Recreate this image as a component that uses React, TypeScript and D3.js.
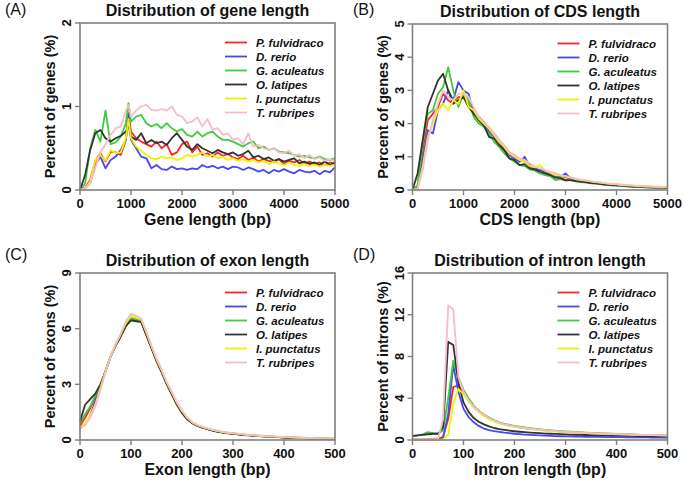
import React from "react";
import * as d3 from "d3";

const FONT = "'Liberation Sans', Arial, Helvetica, sans-serif";

const SPECIES = ["P. fulvidraco", "D. rerio", "G. aculeatus", "O. latipes", "I. punctatus", "T. rubripes"];
const COLORS = ["#ff2424", "#4848ee", "#3ccc3c", "#333333", "#f2f200", "#f8bcc8"];

// bin positions (bp)
const GENE_X = [...d3.range(0, 1000, 100), 950, ...d3.range(1000, 5001, 100)];
const CDS_X = d3.range(0, 5001, 100);
const EXON_X = d3.range(0, 501, 10);
const INTRON_X = d3.range(0, 501, 10);

// (A) gene length, % of genes
const GENE_PF = [0, 0.03, 0.12, 0.35, 0.44, 0.34, 0.46, 0.45, 0.42, 0.6, 0.92, 0.7, 0.62, 0.58, 0.55, 0.52, 0.58, 0.5, 0.55, 0.42, 0.45, 0.55, 0.58, 0.45, 0.52, 0.42, 0.44, 0.4, 0.45, 0.41, 0.43, 0.39, 0.37, 0.41, 0.36, 0.39, 0.34, 0.37, 0.35, 0.33, 0.37, 0.31, 0.35, 0.33, 0.36, 0.32, 0.34, 0.31, 0.33, 0.3, 0.33, 0.31];
const GENE_DR = [0, 0.02, 0.08, 0.3, 0.4, 0.26, 0.36, 0.4, 0.48, 0.6, 0.9, 0.6, 0.5, 0.4, 0.38, 0.26, 0.3, 0.25, 0.24, 0.28, 0.25, 0.26, 0.24, 0.26, 0.25, 0.3, 0.27, 0.29, 0.26, 0.28, 0.25, 0.28, 0.27, 0.24, 0.27, 0.25, 0.22, 0.24, 0.2, 0.24, 0.22, 0.25, 0.22, 0.2, 0.24, 0.22, 0.21, 0.23, 0.19, 0.23, 0.21, 0.27];
const GENE_GA = [0, 0.08, 0.5, 0.72, 0.58, 0.95, 0.55, 0.57, 0.64, 0.8, 1.04, 0.82, 0.88, 0.9, 0.8, 0.76, 0.79, 0.74, 0.8, 0.74, 0.7, 0.73, 0.66, 0.64, 0.7, 0.64, 0.68, 0.7, 0.64, 0.6, 0.6, 0.58, 0.55, 0.52, 0.56, 0.58, 0.5, 0.52, 0.48, 0.5, 0.46, 0.45, 0.44, 0.42, 0.4, 0.41, 0.39, 0.38, 0.4, 0.37, 0.36, 0.38];
const GENE_OL = [0, 0.18, 0.48, 0.68, 0.72, 0.62, 0.58, 0.62, 0.65, 0.7, 0.78, 0.64, 0.6, 0.68, 0.56, 0.6, 0.56, 0.58, 0.54, 0.62, 0.68, 0.6, 0.52, 0.48, 0.55, 0.5, 0.47, 0.44, 0.48, 0.45, 0.43, 0.45, 0.41, 0.43, 0.47, 0.39, 0.41, 0.37, 0.39, 0.35, 0.37, 0.34, 0.36, 0.38, 0.32, 0.34, 0.31, 0.33, 0.3, 0.34, 0.3, 0.33];
const GENE_IP = [0, 0.02, 0.1, 0.36, 0.42, 0.35, 0.48, 0.44, 0.45, 0.62, 0.85, 0.62, 0.52, 0.47, 0.42, 0.38, 0.37, 0.4, 0.38, 0.39, 0.36, 0.38, 0.42, 0.4, 0.42, 0.45, 0.4, 0.42, 0.38, 0.4, 0.36, 0.38, 0.35, 0.37, 0.34, 0.36, 0.33, 0.35, 0.31, 0.34, 0.32, 0.3, 0.33, 0.3, 0.29, 0.31, 0.29, 0.3, 0.28, 0.3, 0.29, 0.3];
const GENE_TR = [0, 0.02, 0.08, 0.26, 0.45, 0.55, 0.66, 0.74, 0.76, 0.95, 1.02, 0.88, 0.95, 1.0, 1.02, 0.96, 0.95, 0.97, 0.95, 1.0, 0.9, 0.88, 0.8, 0.82, 0.87, 0.76, 0.85, 0.72, 0.74, 0.66, 0.68, 0.6, 0.62, 0.55, 0.68, 0.52, 0.54, 0.5, 0.48, 0.5, 0.45, 0.44, 0.47, 0.41, 0.43, 0.38, 0.42, 0.37, 0.39, 0.35, 0.37, 0.34];

// (B) CDS length, % of genes
const CDS_PF = [0, 0.1, 1.2, 2.1, 2.3, 2.5, 2.9, 2.7, 2.6, 2.8, 2.8, 2.6, 2.3, 2.2, 2.05, 1.8, 1.7, 1.5, 1.3, 1.1, 1.05, 0.9, 0.85, 0.75, 0.6, 0.62, 0.55, 0.5, 0.45, 0.42, 0.38, 0.35, 0.31, 0.29, 0.27, 0.24, 0.22, 0.2, 0.18, 0.17, 0.16, 0.15, 0.13, 0.12, 0.11, 0.11, 0.1, 0.09, 0.09, 0.08, 0.08];
const CDS_DR = [0, 0.05, 0.9, 1.8, 1.7, 2.4, 2.6, 3.0, 2.7, 3.25, 3.0, 2.9, 2.3, 2.2, 2.0, 1.75, 1.6, 1.45, 1.2, 1.05, 0.95, 0.85, 1.0, 0.7, 0.65, 0.6, 0.55, 0.5, 0.42, 0.4, 0.5, 0.34, 0.3, 0.28, 0.26, 0.23, 0.21, 0.19, 0.17, 0.16, 0.15, 0.14, 0.12, 0.11, 0.1, 0.1, 0.09, 0.08, 0.08, 0.07, 0.07];
const CDS_GA = [0, 0.15, 1.4, 2.3, 2.4, 2.9, 3.1, 3.7, 3.0, 2.5, 2.9, 2.7, 2.2, 2.0, 1.9, 1.7, 1.45, 1.3, 1.1, 0.95, 0.85, 0.75, 0.72, 0.62, 0.58, 0.5, 0.45, 0.42, 0.3, 0.33, 0.28, 0.3, 0.26, 0.24, 0.22, 0.2, 0.19, 0.17, 0.15, 0.14, 0.13, 0.12, 0.11, 0.1, 0.09, 0.09, 0.08, 0.07, 0.07, 0.06, 0.06];
const CDS_OL = [0, 0.5, 1.5, 2.5, 2.9, 3.3, 3.5, 3.0, 2.6, 2.7, 2.8, 2.5, 2.3, 2.1, 1.95, 1.6, 1.55, 1.35, 1.2, 0.95, 0.9, 0.75, 0.78, 0.65, 0.62, 0.55, 0.5, 0.45, 0.37, 0.36, 0.3, 0.3, 0.27, 0.25, 0.24, 0.21, 0.2, 0.18, 0.16, 0.15, 0.14, 0.13, 0.12, 0.1, 0.1, 0.09, 0.08, 0.08, 0.07, 0.07, 0.06];
const CDS_IP = [0, 0.03, 0.7, 1.6, 2.0, 2.4, 2.6, 2.4, 2.7, 2.6, 3.0, 2.5, 2.4, 2.15, 2.0, 1.85, 1.65, 1.45, 1.3, 1.1, 1.0, 0.9, 0.85, 0.72, 0.68, 0.75, 0.58, 0.52, 0.45, 0.43, 0.4, 0.37, 0.33, 0.3, 0.28, 0.26, 0.24, 0.22, 0.2, 0.19, 0.18, 0.16, 0.15, 0.14, 0.13, 0.12, 0.11, 0.1, 0.1, 0.09, 0.09];
const CDS_TR = [0, 0.02, 0.6, 1.5, 2.1, 2.6, 3.0, 2.8, 2.7, 2.9, 2.9, 2.8, 2.5, 2.2, 2.05, 1.9, 1.7, 1.5, 1.35, 1.15, 1.05, 0.95, 0.9, 0.8, 0.7, 0.65, 0.6, 0.55, 0.5, 0.45, 0.42, 0.38, 0.34, 0.31, 0.29, 0.26, 0.24, 0.22, 0.2, 0.18, 0.17, 0.15, 0.14, 0.13, 0.12, 0.11, 0.1, 0.1, 0.09, 0.08, 0.08];

// (C) exon length, % of exons
const EXON_PF = [0.75, 1.2, 1.7, 2.3, 2.9, 3.7, 4.5, 5.1, 5.6, 6.2, 6.55, 6.5, 6.45, 5.7, 5.0, 4.3, 3.7, 3.05, 2.5, 1.95, 1.5, 1.15, 0.92, 0.78, 0.68, 0.6, 0.52, 0.46, 0.41, 0.38, 0.35, 0.32, 0.29, 0.26, 0.24, 0.22, 0.2, 0.19, 0.17, 0.16, 0.14, 0.13, 0.12, 0.11, 0.1, 0.09, 0.08, 0.08, 0.07, 0.07, 0.06];
const EXON_DR = [0.7, 0.85, 1.3, 2.1, 2.9, 3.7, 4.5, 5.1, 5.6, 6.15, 6.5, 6.45, 6.4, 5.7, 5.0, 4.3, 3.7, 3.05, 2.5, 1.95, 1.5, 1.15, 0.92, 0.78, 0.68, 0.6, 0.52, 0.46, 0.41, 0.37, 0.34, 0.31, 0.28, 0.26, 0.24, 0.22, 0.2, 0.19, 0.17, 0.16, 0.14, 0.13, 0.12, 0.11, 0.1, 0.09, 0.08, 0.08, 0.07, 0.07, 0.06];
const EXON_GA = [0.9, 1.4, 1.8, 2.4, 2.95, 3.7, 4.5, 5.1, 5.6, 6.2, 6.55, 6.5, 6.4, 5.7, 5.0, 4.3, 3.7, 3.05, 2.5, 1.95, 1.5, 1.15, 0.92, 0.78, 0.68, 0.6, 0.52, 0.46, 0.42, 0.38, 0.35, 0.32, 0.29, 0.27, 0.25, 0.23, 0.21, 0.2, 0.18, 0.17, 0.15, 0.14, 0.13, 0.12, 0.11, 0.1, 0.09, 0.09, 0.08, 0.08, 0.07];
const EXON_OL = [1.0, 1.9, 2.2, 2.5, 3.0, 3.7, 4.5, 5.1, 5.6, 6.15, 6.45, 6.4, 6.35, 5.65, 4.95, 4.25, 3.65, 3.0, 2.45, 1.9, 1.45, 1.12, 0.9, 0.76, 0.66, 0.58, 0.5, 0.44, 0.4, 0.36, 0.33, 0.3, 0.27, 0.25, 0.23, 0.21, 0.19, 0.18, 0.16, 0.15, 0.13, 0.12, 0.11, 0.1, 0.09, 0.08, 0.08, 0.07, 0.07, 0.06, 0.05];
const EXON_IP = [0.65, 0.9, 1.3, 1.9, 2.8, 3.7, 4.5, 5.15, 5.7, 6.3, 6.7, 6.6, 6.5, 5.8, 5.05, 4.35, 3.75, 3.1, 2.55, 2.0, 1.55, 1.2, 0.95, 0.8, 0.7, 0.62, 0.54, 0.48, 0.43, 0.39, 0.36, 0.33, 0.3, 0.27, 0.25, 0.23, 0.21, 0.2, 0.18, 0.17, 0.15, 0.14, 0.13, 0.12, 0.11, 0.1, 0.09, 0.09, 0.08, 0.08, 0.07];
const EXON_TR = [0.6, 0.8, 1.2, 1.8, 2.7, 3.65, 4.5, 5.2, 5.75, 6.4, 6.8, 6.7, 6.55, 5.85, 5.1, 4.4, 3.8, 3.15, 2.6, 2.05, 1.6, 1.22, 0.97, 0.82, 0.72, 0.63, 0.55, 0.49, 0.44, 0.4, 0.37, 0.34, 0.31, 0.28, 0.26, 0.24, 0.22, 0.2, 0.19, 0.18, 0.16, 0.15, 0.14, 0.13, 0.12, 0.11, 0.1, 0.09, 0.09, 0.08, 0.08];

// (D) intron length, % of introns
const INTRON_PF = [0.05, 0.05, 0.05, 0.08, 0.1, 0.12, 0.3, 2.0, 5.1, 5.2, 4.5, 3.8, 3.2, 2.75, 2.4, 2.1, 1.85, 1.65, 1.5, 1.4, 1.3, 1.22, 1.15, 1.09, 1.03, 0.98, 0.93, 0.89, 0.85, 0.81, 0.78, 0.75, 0.72, 0.7, 0.68, 0.66, 0.64, 0.62, 0.6, 0.58, 0.56, 0.55, 0.53, 0.52, 0.5, 0.49, 0.48, 0.47, 0.46, 0.45, 0.44];
const INTRON_DR = [0, 0, 0, 0, 0, 0.05, 0.2, 2.5, 7.2, 4.6, 3.0, 2.2, 1.7, 1.35, 1.1, 0.95, 0.85, 0.77, 0.7, 0.65, 0.6, 0.56, 0.52, 0.49, 0.46, 0.44, 0.42, 0.4, 0.38, 0.36, 0.35, 0.34, 0.33, 0.32, 0.31, 0.3, 0.29, 0.29, 0.28, 0.28, 0.27, 0.27, 0.26, 0.26, 0.25, 0.25, 0.25, 0.24, 0.24, 0.24, 0.23];
const INTRON_GA = [0.35, 0.45, 0.55, 0.75, 0.65, 0.6, 0.9, 4.0, 7.6, 6.0, 4.8, 4.0, 3.3, 2.8, 2.45, 2.15, 1.9, 1.7, 1.55, 1.45, 1.35, 1.27, 1.2, 1.14, 1.08, 1.02, 0.97, 0.93, 0.89, 0.85, 0.82, 0.79, 0.76, 0.73, 0.7, 0.68, 0.66, 0.64, 0.62, 0.6, 0.58, 0.56, 0.55, 0.53, 0.52, 0.5, 0.49, 0.48, 0.47, 0.46, 0.45];
const INTRON_OL = [0.4, 0.45, 0.5, 0.55, 0.6, 0.6, 1.2, 9.4, 9.1, 5.5, 3.6, 2.7, 2.1, 1.75, 1.5, 1.3, 1.15, 1.05, 0.97, 0.9, 0.84, 0.79, 0.75, 0.71, 0.68, 0.65, 0.62, 0.6, 0.58, 0.56, 0.54, 0.52, 0.5, 0.49, 0.48, 0.47, 0.46, 0.45, 0.44, 0.43, 0.42, 0.41, 0.4, 0.39, 0.38, 0.38, 0.37, 0.36, 0.36, 0.35, 0.35];
const INTRON_IP = [0, 0, 0, 0, 0, 0.02, 0.05, 0.5, 3.5, 4.9, 4.4, 3.7, 3.1, 2.65, 2.3, 2.0, 1.78, 1.6, 1.46, 1.36, 1.27, 1.19, 1.12, 1.06, 1.0, 0.95, 0.9, 0.86, 0.82, 0.79, 0.76, 0.73, 0.7, 0.68, 0.66, 0.64, 0.62, 0.6, 0.58, 0.56, 0.55, 0.53, 0.52, 0.5, 0.49, 0.48, 0.47, 0.46, 0.45, 0.44, 0.43];
const INTRON_TR = [0.05, 0.05, 0.05, 0.05, 0.08, 0.1, 2.0, 12.9, 12.5, 6.0, 4.6, 3.8, 3.2, 2.75, 2.4, 2.1, 1.85, 1.65, 1.5, 1.4, 1.3, 1.22, 1.15, 1.09, 1.03, 0.98, 0.93, 0.89, 0.85, 0.81, 0.78, 0.75, 0.72, 0.7, 0.68, 0.66, 0.64, 0.62, 0.6, 0.58, 0.56, 0.55, 0.53, 0.52, 0.5, 0.49, 0.48, 0.47, 0.46, 0.45, 0.44];

type Box = { l: number; r: number; t: number; b: number };
type PanelCfg = {
  tag: string;
  tagX: number;
  tagY: number;
  title: string;
  xTitle: string;
  yTitle: string;
  xs: number[];
  series: number[][];
  xMax: number;
  yMax: number;
  xTicks: number[];
  yTicks: number[];
  box: Box;
};

const PANELS: PanelCfg[] = [
  {
    tag: "(A)", tagX: 5, tagY: 15,
    title: "Distribution of gene length", xTitle: "Gene length (bp)", yTitle: "Percent of genes (%)",
    xs: GENE_X, series: [GENE_PF, GENE_DR, GENE_GA, GENE_OL, GENE_IP, GENE_TR],
    xMax: 5000, yMax: 2, xTicks: d3.range(0, 5001, 1000), yTicks: [0, 1, 2],
    box: { l: 80, r: 335, t: 23, b: 190 },
  },
  {
    tag: "(B)", tagX: 353, tagY: 15,
    title: "Distribution of CDS length", xTitle: "CDS length (bp)", yTitle: "Percent of genes (%)",
    xs: CDS_X, series: [CDS_PF, CDS_DR, CDS_GA, CDS_OL, CDS_IP, CDS_TR],
    xMax: 5000, yMax: 5, xTicks: d3.range(0, 5001, 1000), yTicks: [0, 1, 2, 3, 4, 5],
    box: { l: 412.5, r: 667.5, t: 24, b: 190 },
  },
  {
    tag: "(C)", tagX: 5, tagY: 260,
    title: "Distribution of exon length", xTitle: "Exon length (bp)", yTitle: "Percent of exons (%)",
    xs: EXON_X, series: [EXON_PF, EXON_DR, EXON_GA, EXON_OL, EXON_IP, EXON_TR],
    xMax: 500, yMax: 9, xTicks: d3.range(0, 501, 100), yTicks: [0, 3, 6, 9],
    box: { l: 80, r: 335, t: 273, b: 440 },
  },
  {
    tag: "(D)", tagX: 353, tagY: 260,
    title: "Distribution of intron length", xTitle: "Intron length (bp)", yTitle: "Percent of introns (%)",
    xs: INTRON_X, series: [INTRON_PF, INTRON_DR, INTRON_GA, INTRON_OL, INTRON_IP, INTRON_TR],
    xMax: 500, yMax: 16, xTicks: d3.range(0, 501, 100), yTicks: [0, 4, 8, 12, 16],
    box: { l: 412.5, r: 667.5, t: 273, b: 440 },
  },
];

const AXIS = "#808080";

function Panel({ cfg }: { cfg: PanelCfg }) {
  const { box } = cfg;
  const x = d3.scaleLinear().domain([0, cfg.xMax]).range([box.l, box.r]);
  const y = d3.scaleLinear().domain([0, cfg.yMax]).range([box.b, box.t]);
  const midX = (box.l + box.r) / 2;
  const midY = (box.t + box.b) / 2;

  const pathFor = (vals: number[]) =>
    d3
      .line<number>()
      .x((_, i) => x(cfg.xs[i]))
      .y((d) => y(d))(vals) || "";

  return (
    <g fontFamily={FONT}>
      <text x={cfg.tagX} y={cfg.tagY} fontSize={16} fill="#111">{cfg.tag}</text>
      <text x={midX} y={box.t - 7.5} fontSize={16} fontWeight="bold" textAnchor="middle" fill="#111">
        {cfg.title}
      </text>

      {/* lines */}
      {cfg.series.map((vals, i) => (
        <path key={i} d={pathFor(vals)} fill="none" stroke={COLORS[i]} strokeWidth={1.8} strokeLinejoin="round" />
      ))}

      {/* box */}
      <rect x={box.l} y={box.t} width={box.r - box.l} height={box.b - box.t} fill="none" stroke={AXIS} strokeWidth={1.6} />

      {/* x axis */}
      {cfg.xTicks.map((t) => (
        <g key={"x" + t}>
          <line x1={x(t)} x2={x(t)} y1={box.b} y2={box.b + 5} stroke={AXIS} strokeWidth={1.4} />
          <text x={x(t)} y={box.b + 17.5} fontSize={13} fontWeight="bold" textAnchor="middle" fill="#111">
            {t}
          </text>
        </g>
      ))}
      <text x={midX} y={box.b + 35} fontSize={16} fontWeight="bold" textAnchor="middle" fill="#111">
        {cfg.xTitle}
      </text>

      {/* y axis */}
      {cfg.yTicks.map((t) => (
        <g key={"y" + t}>
          <line x1={box.l - 5} x2={box.l} y1={y(t)} y2={y(t)} stroke={AXIS} strokeWidth={1.4} />
          <text
            transform={`translate(${box.l - 9},${y(t)}) rotate(-90)`}
            fontSize={13}
            fontWeight="bold"
            textAnchor="middle"
            fill="#111"
          >
            {t}
          </text>
        </g>
      ))}
      <text
        transform={`translate(${box.l - 25},${midY}) rotate(-90)`}
        fontSize={14.5}
        fontWeight="bold"
        textAnchor="middle"
        fill="#111"
      >
        {cfg.yTitle}
      </text>

      {/* legend */}
      {SPECIES.map((s, i) => {
        const ly = box.t + 19.5 + i * 14;
        return (
          <g key={s}>
            <line x1={box.l + 145} x2={box.l + 167} y1={ly} y2={ly} stroke={COLORS[i]} strokeWidth={1.8} />
            <text x={box.l + 176} y={ly + 4} fontSize={11.5} fontWeight="bold" fontStyle="italic" fill="#111">
              {s}
            </text>
          </g>
        );
      })}
    </g>
  );
}

export default function App() {
  return (
    <svg
      width={685}
      height={481}
      style={{ position: "absolute", left: 0, top: 0, background: "#fff" }}
    >
      {PANELS.map((p) => (
        <Panel key={p.tag} cfg={p} />
      ))}
    </svg>
  );
}
